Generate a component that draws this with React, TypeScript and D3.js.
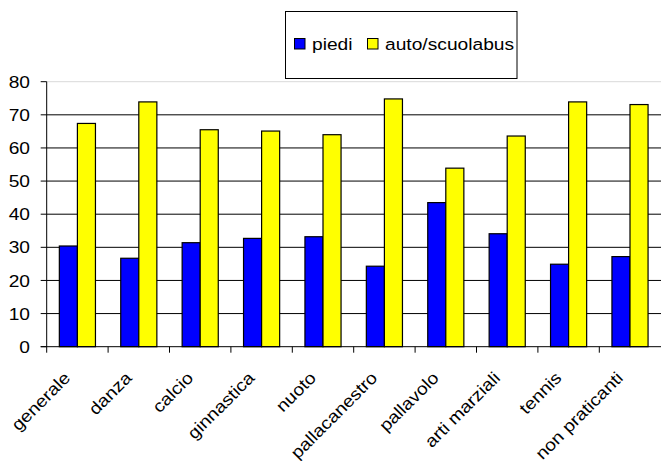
import React from "react";
import * as d3 from "d3";

const categories = ["generale", "danza", "calcio", "ginnastica", "nuoto", "pallacanestro", "pallavolo", "arti marziali", "tennis", "non praticanti"];
const piedi = [30.4, 26.7, 31.4, 32.7, 33.2, 24.3, 43.5, 34.1, 24.9, 27.2];
const autoScuolabus = [67.4, 73.9, 65.5, 65.1, 64.0, 74.8, 53.9, 63.6, 73.9, 73.1];
const seriesNames = ["piedi", "auto/scuolabus"];
const seriesColors = ["#0000ff", "#ffff00"];
const yTicks = [0, 10, 20, 30, 40, 50, 60, 70, 80];

const W = 661;
const H = 461;
const FONT = "'Liberation Sans', Arial, sans-serif";
const FS = 17;
const SX = 1.13;

export default function App() {
  const left = 46.7;
  const right = 661;
  const top = 81.7;
  const bottom = 346.7;
  const x0 = d3.scaleBand<string>().domain(categories).range([left, left + 61.4 * 10]).padding(0);
  const x1 = d3.scaleBand<string>().domain(seriesNames).range([0, x0.bandwidth()]).paddingInner(0).paddingOuter(0.7);
  const y = d3.scaleLinear().domain([0, 80]).range([bottom, top]);
  const data = [piedi, autoScuolabus];

  return (
    <svg width={W} height={H} style={{ position: "absolute", left: 0, top: 0, background: "#fff" }} fontFamily={FONT}>
      <rect x={0} y={0} width={W} height={H} fill="#fff" />
      {yTicks.filter((t) => t > 0).map((t) => (
        <line key={t} x1={left} x2={right} y1={y(t)} y2={y(t)} stroke={t === 80 ? "#d9d9d9" : "#000"} strokeWidth={1} />
      ))}
      {categories.map((c, i) => (
        <g key={c}>
          {seriesNames.map((s, k) => (
            <rect
              key={s}
              x={(x0(c) as number) + (x1(s) as number)}
              y={y(data[k][i])}
              width={x1.bandwidth()}
              height={bottom - y(data[k][i])}
              fill={seriesColors[k]}
              stroke="#000"
              strokeWidth={1.2}
            />
          ))}
        </g>
      ))}
      <line x1={left} x2={left} y1={top} y2={bottom} stroke="#000" strokeWidth={1} />
      <line x1={left - 6} x2={right} y1={bottom} y2={bottom} stroke="#000" strokeWidth={1} />
      {yTicks.map((t) => (
        <g key={t}>
          <line x1={left - 6} x2={left} y1={y(t)} y2={y(t)} stroke="#000" />
          <g transform={`translate(30,${y(t)}) scale(${SX},1)`}>
            <text textAnchor="end" dy="0.36em" fontSize={FS} fill="#000">{t}</text>
          </g>
        </g>
      ))}
      {categories.map((c) => (
        <line key={c} x1={x0(c) as number} x2={x0(c) as number} y1={bottom} y2={bottom + 6} stroke="#000" />
      ))}
      {categories.map((c) => {
        const cx = (x0(c) as number) + x0.bandwidth() / 2;
        return (
          <g key={c} transform={`translate(${cx - 6},${379}) rotate(-45) scale(${SX},1)`}>
            <text textAnchor="end" fontSize={FS} fill="#000">{c}</text>
          </g>
        );
      })}
      <rect x={285.5} y={11.5} width={231.5} height={67} fill="#fff" stroke="#000" strokeWidth={1} />
      {seriesNames.map((s, k) => {
        const lx = k === 0 ? 294 : 367;
        return (
          <g key={s}>
            <rect x={lx + 0.5} y={38.5} width={10.5} height={10.5} fill={seriesColors[k]} stroke="#000" strokeWidth={1} />
            <g transform={`translate(${lx + 18},50) scale(${SX},1)`}>
              <text fontSize={FS} fill="#000">{s}</text>
            </g>
          </g>
        );
      })}
    </svg>
  );
}
